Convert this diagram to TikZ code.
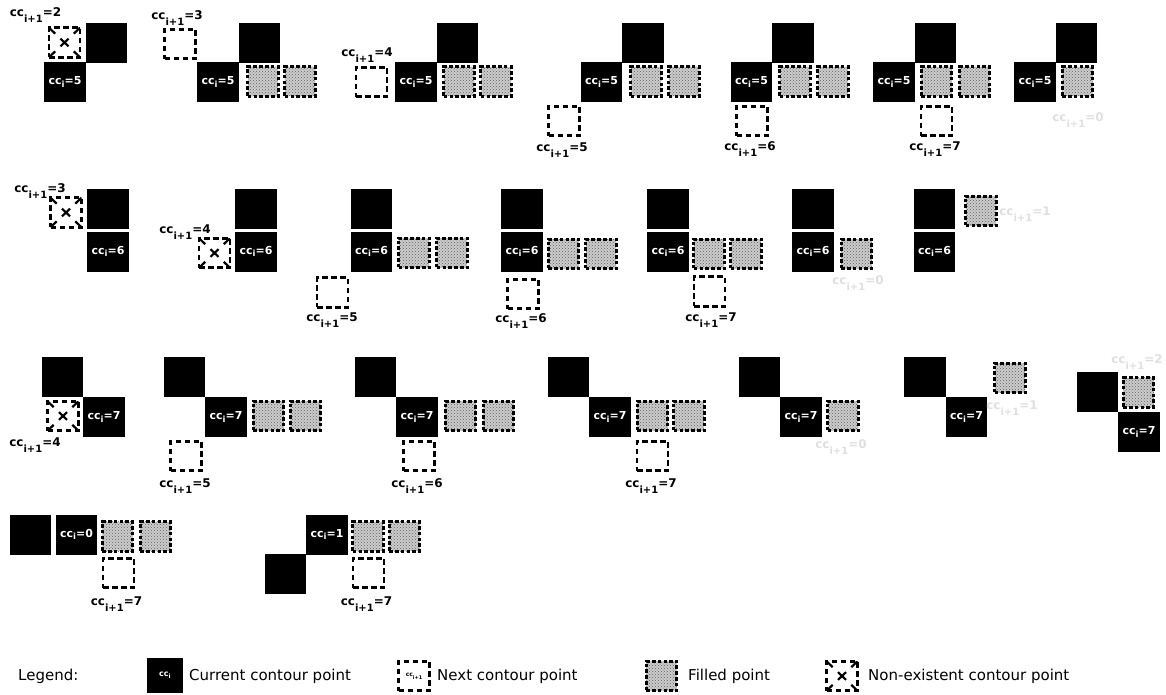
\documentclass[tikz,border=0pt]{standalone}
\usepackage{fontspec}
\setmainfont{DejaVu Sans}
\usetikzlibrary{calc,patterns}

% subscripts of the chain-code labels
\newcommand\lsub[1]{\raisebox{-6pt}{\fontsize{10}{10}\selectfont #1}}
\newcommand\csub[1]{\raisebox{-2.5pt}{\fontsize{8.5}{8.5}\selectfont #1}}
\newcommand\nxtlbl[1]{cc\lsub{i+1}=#1}
\newcommand\curlbl[1]{cc\csub{i}=#1}

\begin{document}
\begin{tikzpicture}[x=1pt,y=-1pt,
  blk/.style={fill=black, minimum width=41.5pt, minimum height=40pt, inner sep=0pt, outer sep=0pt},
  cur/.style={blk, text=white, font=\bfseries\fontsize{11}{11}\selectfont},
  emptybox/.style={draw, line width=2.8pt, dash pattern=on 5.5pt off 3.5pt,
    minimum width=31pt, minimum height=29.5pt, inner sep=0pt},
  filledpt/.style={draw, line width=3.3pt, dash pattern=on 3.6pt off 2.2pt,
    preaction={fill=gray!40}, pattern=crosshatch dots, pattern color=gray!75!black,
    minimum width=30.5pt, minimum height=29.5pt, inner sep=0pt},
  nonex/.style={emptybox, path picture={
    \foreach \a/\b in {north west/south east, north east/south west}{
      \draw[solid, line width=2.2pt]
        (path picture bounding box.\a) -- ($(path picture bounding box.\a)!0.2!(path picture bounding box.\b)$)
        ($(path picture bounding box.\a)!0.37!(path picture bounding box.\b)$) -- ($(path picture bounding box.\a)!0.63!(path picture bounding box.\b)$)
        ($(path picture bounding box.\a)!0.8!(path picture bounding box.\b)$) -- (path picture bounding box.\b);
    }}},
  lbl/.style={font=\bfseries\fontsize{12}{12}\selectfont, inner sep=0pt},
  faint/.style={lbl, text=gray!25},
  legtext/.style={font=\fontsize{15}{15}\selectfont, anchor=west, inner sep=0pt},
]
\useasboundingbox (0,0) rectangle (1166,694);

% ---------------- row 1: cc_i = 5 ----------------
\node[cur] (a1c) at (65,82) {\curlbl{5}};
\node[blk] (a1p) at (106.5,42.5) {};
\node[nonex] (a1n) at (64.5,42.5) {};
\node[lbl] (a1l) at (35.5,15) {\nxtlbl{2}};

\node[cur] (a2c) at (218,82) {\curlbl{5}};
\node[blk] (a2p) at (259.5,42.5) {};
\node[emptybox] (a2n) at (180,44) {};
\node[filledpt] (a2f1) at (263,81.5) {};
\node[filledpt] (a2f2) at (300,81.5) {};
\node[lbl] (a2l) at (177,18) {\nxtlbl{3}};

\node[cur] (a3c) at (416,82) {\curlbl{5}};
\node[blk] (a3p) at (457.5,42.5) {};
\node[emptybox] (a3n) at (371.5,82) {};
\node[filledpt] (a3f1) at (459,81.5) {};
\node[filledpt] (a3f2) at (496,81.5) {};
\node[lbl] (a3l) at (367,55) {\nxtlbl{4}};

\node[cur] (a4c) at (601.5,82) {\curlbl{5}};
\node[blk] (a4p) at (643,42.5) {};
\node[emptybox] (a4n) at (564,121) {};
\node[filledpt] (a4f1) at (646,81.5) {};
\node[filledpt] (a4f2) at (684,81.5) {};
\node[lbl] (a4l) at (562,150) {\nxtlbl{5}};

\node[cur] (a5c) at (751.5,82) {\curlbl{5}};
\node[blk] (a5p) at (793,42.5) {};
\node[emptybox] (a5n) at (752,121) {};
\node[filledpt] (a5f1) at (795,81.5) {};
\node[filledpt] (a5f2) at (833,81.5) {};
\node[lbl] (a5l) at (750,149) {\nxtlbl{6}};

\node[cur] (a6c) at (894,82) {\curlbl{5}};
\node[blk] (a6p) at (935.5,42.5) {};
\node[emptybox] (a6n) at (936.5,121) {};
\node[filledpt] (a6f1) at (936.5,81.5) {};
\node[filledpt] (a6f2) at (974.5,81.5) {};
\node[lbl] (a6l) at (935,149) {\nxtlbl{7}};

\node[cur] (a7c) at (1035,82) {\curlbl{5}};
\node[blk] (a7p) at (1076.5,42.5) {};
\node[filledpt] (a7f1) at (1077.5,81.5) {};
\node[faint] (a7l) at (1078,120) {\nxtlbl{0}};

% ---------------- row 2: cc_i = 6 ----------------
\node[cur] (b1c) at (108,251.5) {\curlbl{6}};
\node[blk] (b1p) at (108,209) {};
\node[nonex] (b1n) at (66,212.5) {};
\node[lbl] (b1l) at (40,191) {\nxtlbl{3}};

\node[cur] (b2c) at (256,251.5) {\curlbl{6}};
\node[blk] (b2p) at (256,209) {};
\node[nonex] (b2n) at (214.5,253) {};
\node[lbl] (b2l) at (185,232) {\nxtlbl{4}};

\node[cur] (b3c) at (371.5,251.5) {\curlbl{6}};
\node[blk] (b3p) at (371.5,209) {};
\node[emptybox] (b3n) at (332.5,292.5) {};
\node[filledpt] (b3f1) at (414,253) {};
\node[filledpt] (b3f2) at (452,253) {};
\node[lbl] (b3l) at (332,320) {\nxtlbl{5}};

\node[cur] (b4c) at (522,251.5) {\curlbl{6}};
\node[blk] (b4p) at (522,209) {};
\node[emptybox] (b4n) at (523,294) {};
\node[filledpt] (b4f1) at (563.5,254) {};
\node[filledpt] (b4f2) at (601,254) {};
\node[lbl] (b4l) at (521,321) {\nxtlbl{6}};

\node[cur] (b5c) at (668,251.5) {\curlbl{6}};
\node[blk] (b5p) at (668,209) {};
\node[emptybox] (b5n) at (709.5,291.5) {};
\node[filledpt] (b5f1) at (709,254) {};
\node[filledpt] (b5f2) at (746,254) {};
\node[lbl] (b5l) at (711,320) {\nxtlbl{7}};

\node[cur] (b6c) at (813,251.5) {\curlbl{6}};
\node[blk] (b6p) at (813,209) {};
\node[filledpt] (b6f1) at (856.5,254) {};
\node[faint] (b6l) at (858,283) {\nxtlbl{0}};

\node[cur] (b7c) at (934.5,251.5) {\curlbl{6}};
\node[blk] (b7p) at (934.5,209) {};
\node[filledpt] (b7f1) at (981,211) {};
\node[faint] (b7l) at (1025,214) {\nxtlbl{1}};

% ---------------- row 3: cc_i = 7 ----------------
\node[cur] (c1c) at (104,417) {\curlbl{7}};
\node[blk] (c1p) at (62.5,377) {};
\node[nonex] (c1n) at (63,416) {};
\node[lbl] (c1l) at (35,445) {\nxtlbl{4}};

\node[cur] (c2c) at (226,417) {\curlbl{7}};
\node[blk] (c2p) at (184.5,377) {};
\node[emptybox] (c2n) at (186,456) {};
\node[filledpt] (c2f1) at (268.5,416) {};
\node[filledpt] (c2f2) at (305.5,416) {};
\node[lbl] (c2l) at (185,486) {\nxtlbl{5}};

\node[cur] (c3c) at (417,417) {\curlbl{7}};
\node[blk] (c3p) at (375.5,377) {};
\node[emptybox] (c3n) at (419,456) {};
\node[filledpt] (c3f1) at (460.5,416) {};
\node[filledpt] (c3f2) at (498.5,416) {};
\node[lbl] (c3l) at (417,486) {\nxtlbl{6}};

\node[cur] (c4c) at (610,417) {\curlbl{7}};
\node[blk] (c4p) at (568.5,377) {};
\node[emptybox] (c4n) at (652.5,456) {};
\node[filledpt] (c4f1) at (652.5,416) {};
\node[filledpt] (c4f2) at (689,416) {};
\node[lbl] (c4l) at (651,486) {\nxtlbl{7}};

\node[cur] (c5c) at (801,417) {\curlbl{7}};
\node[blk] (c5p) at (759.5,377) {};
\node[filledpt] (c5f1) at (843,416) {};
\node[faint] (c5l) at (841,447) {\nxtlbl{0}};

\node[cur] (c6c) at (966.5,417) {\curlbl{7}};
\node[blk] (c6p) at (925,377) {};
\node[filledpt] (c6f1) at (1010,378) {};
\node[faint] (c6l) at (1012,408) {\nxtlbl{1}};

\node[cur] (c7c) at (1139,432) {\curlbl{7}};
\node[blk] (c7p) at (1097.5,392) {};
\node[filledpt] (c7f1) at (1138.5,392.5) {};
\node[faint] (c7l) at (1137,362) {\nxtlbl{2}};

% ---------------- row 4: cc_i = 0 and cc_i = 1 ----------------
\node[cur] (d1c) at (76.5,534.5) {\curlbl{0}};
\node[blk] (d1p) at (30.5,534.5) {};
\node[filledpt] (d1f1) at (117.5,536.5) {};
\node[filledpt] (d1f2) at (155.5,536.5) {};
\node[emptybox] (d1n) at (118.5,573) {};
\node[lbl] (d1l) at (116.5,604) {\nxtlbl{7}};

\node[cur] (d2c) at (327,534.5) {\curlbl{1}};
\node[blk] (d2p) at (285.5,573.5) {};
\node[filledpt] (d2f1) at (368,536.5) {};
\node[filledpt] (d2f2) at (404.5,536.5) {};
\node[emptybox] (d2n) at (368.5,573) {};
\node[lbl] (d2l) at (366.5,604) {\nxtlbl{7}};

% ---------------- legend ----------------
\node[legtext] (legl) at (18,676) {Legend:};
\node[blk, minimum width=36pt, minimum height=35pt, text=white,
      font=\bfseries\fontsize{8}{8}\selectfont] (legc) at (165,675) {cc\raisebox{-2pt}{\fontsize{6}{6}\selectfont i}};
\node[legtext] (legct) at (189,676) {Current contour point};
\node[emptybox, font=\bfseries\fontsize{6}{6}\selectfont] (legn) at (414,676) {cc\raisebox{-3pt}{\fontsize{5}{5}\selectfont i+1}};
\node[legtext] (legnt) at (437,676) {Next contour point};
\node[filledpt] (legf) at (661.5,676) {};
\node[legtext] (legft) at (688,676) {Filled point};
\node[nonex] (legx) at (842,676) {};
\node[legtext] (legxt) at (868,676) {Non-existent contour point};
\end{tikzpicture}
\end{document}
